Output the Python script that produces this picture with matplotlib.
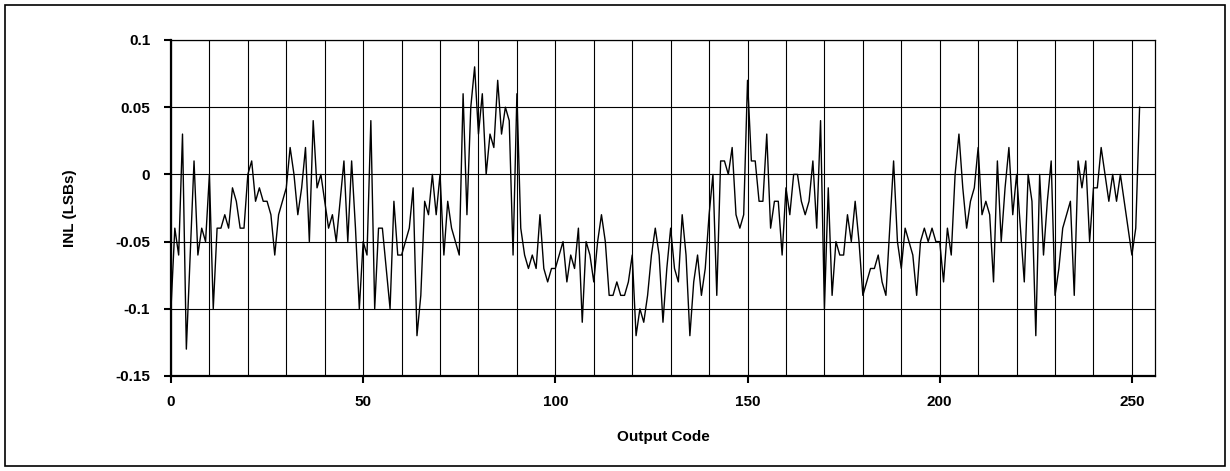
import matplotlib
matplotlib.use('Agg')
import matplotlib.pyplot as plt
from matplotlib.patches import Rectangle
from matplotlib.ticker import MultipleLocator, FuncFormatter

# INL per output code (LSBs)
inl = [
    -0.10, -0.04, -0.06, 0.03, -0.13, -0.06, 0.01, -0.06, -0.04, -0.05,
    0.00, -0.10, -0.04, -0.04, -0.03, -0.04, -0.01, -0.02, -0.04, -0.04,
    0.00, 0.01, -0.02, -0.01, -0.02, -0.02, -0.03, -0.06, -0.03, -0.02,
    -0.01, 0.02, 0.00, -0.03, -0.01, 0.02, -0.05, 0.04, -0.01, 0.00,
    -0.02, -0.04, -0.03, -0.05, -0.02, 0.01, -0.05, 0.01, -0.04, -0.10,
    -0.05, -0.06, 0.04, -0.10, -0.04, -0.04, -0.07, -0.10, -0.02, -0.06,
    -0.06, -0.05, -0.04, -0.01, -0.12, -0.09, -0.02, -0.03, 0.00, -0.03,
    0.00, -0.06, -0.02, -0.04, -0.05, -0.06, 0.06, -0.03, 0.05, 0.08,
    0.03, 0.06, 0.00, 0.03, 0.02, 0.07, 0.03, 0.05, 0.04, -0.06,
    0.06, -0.04, -0.06, -0.07, -0.06, -0.07, -0.03, -0.07, -0.08, -0.07,
    -0.07, -0.06, -0.05, -0.08, -0.06, -0.07, -0.04, -0.11, -0.05, -0.06,
    -0.08, -0.05, -0.03, -0.05, -0.09, -0.09, -0.08, -0.09, -0.09, -0.08,
    -0.06, -0.12, -0.10, -0.11, -0.09, -0.06, -0.04, -0.06, -0.11, -0.07,
    -0.04, -0.07, -0.08, -0.03, -0.06, -0.12, -0.08, -0.06, -0.09, -0.07,
    -0.03, 0.00, -0.09, 0.01, 0.01, 0.00, 0.02, -0.03, -0.04, -0.03,
    0.07, 0.01, 0.01, -0.02, -0.02, 0.03, -0.04, -0.02, -0.02, -0.06,
    -0.01, -0.03, 0.00, 0.00, -0.02, -0.03, -0.02, 0.01, -0.04, 0.04,
    -0.10, -0.01, -0.09, -0.05, -0.06, -0.06, -0.03, -0.05, -0.02, -0.05,
    -0.09, -0.08, -0.07, -0.07, -0.06, -0.08, -0.09, -0.04, 0.01, -0.05,
    -0.07, -0.04, -0.05, -0.06, -0.09, -0.05, -0.04, -0.05, -0.04, -0.05,
    -0.05, -0.08, -0.04, -0.06, 0.00, 0.03, -0.01, -0.04, -0.02, -0.01,
    0.02, -0.03, -0.02, -0.03, -0.08, 0.01, -0.05, -0.01, 0.02, -0.03,
    0.00, -0.04, -0.08, 0.00, -0.02, -0.12, 0.00, -0.06, -0.02, 0.01,
    -0.09, -0.07, -0.04, -0.03, -0.02, -0.09, 0.01, -0.01, 0.01, -0.05,
    -0.01, -0.01, 0.02, 0.00, -0.02, 0.00, -0.02, 0.00, -0.02, -0.04,
    -0.06, -0.04, 0.05,
]
codes = list(range(len(inl)))

y_ticks = [-0.15, -0.1, -0.05, 0, 0.05, 0.1]
x_ticks = [0, 50, 100, 150, 200, 250]

plt.rcParams['font.family'] = ['Liberation Sans', 'DejaVu Sans']
plt.rcParams['font.weight'] = 'bold'

fig = plt.figure(figsize=(12.3, 4.71), dpi=100)
ax = fig.add_axes([0.139, 0.2017, 0.8, 0.7134])

# outer frame around the whole picture
fig.patches.append(Rectangle((5 / 1230, 5 / 471), 1220 / 1230, 461 / 471,
                             transform=fig.transFigure, fill=False,
                             edgecolor='black', linewidth=1.2))

ax.plot(codes, inl, color='black', linewidth=1.0, zorder=3)

ax.set_xlim(0, 256)
ax.set_ylim(-0.15, 0.1)
ax.set_xticks(x_ticks)
ax.xaxis.set_minor_locator(MultipleLocator(10))
ax.set_yticks(y_ticks)
ax.yaxis.set_major_formatter(FuncFormatter(lambda v, p: '%g' % v))

ax.grid(which='both', axis='x', color='black', linewidth=0.8)
ax.grid(which='major', axis='y', color='black', linewidth=0.8)
ax.set_axisbelow(True)

ax.tick_params(axis='both', which='major', direction='out', length=5,
               width=1.5, labelsize=11, color='black')
ax.tick_params(axis='x', which='major', pad=9)
ax.tick_params(axis='y', which='major', pad=10)
ax.tick_params(axis='x', which='minor', length=0)

for side in ['left', 'bottom']:
    ax.spines[side].set_linewidth(1.6)
for side in ['top', 'right']:
    ax.spines[side].set_linewidth(0.9)

ax.set_xlabel('Output Code', fontsize=11, fontweight='bold')
ax.set_ylabel('INL (LSBs)', fontsize=11, fontweight='bold')
ax.xaxis.set_label_coords(0.5, -0.161)
ax.yaxis.set_label_coords(-0.0955, 0.5)

plt.savefig('out.png', dpi=100)
